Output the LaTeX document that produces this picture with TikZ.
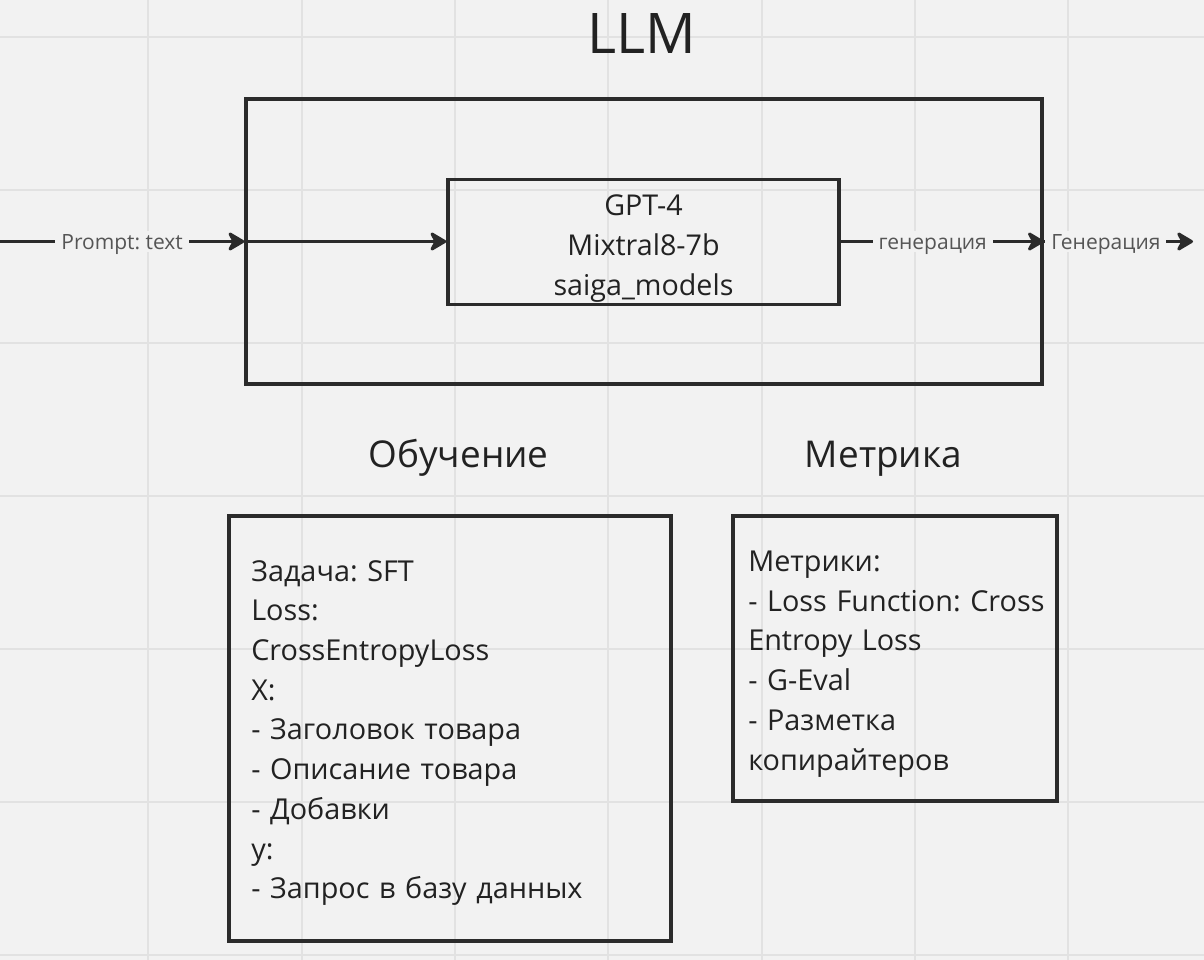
\documentclass[tikz,border=0pt]{standalone}
\usepackage{fontspec}
\setmainfont{Open Sans}
\newfontfamily\bodyfont[WordSpace=0.8]{Open Sans}
\usetikzlibrary{arrows.meta}
\frenchspacing
\definecolor{bg}{HTML}{F2F2F2}
\definecolor{gridc}{HTML}{E2E2E2}
\definecolor{ink}{HTML}{2B2B2B}
\definecolor{txt}{HTML}{222222}
\definecolor{lbl}{HTML}{555555}
\begin{document}
\begin{tikzpicture}[x=0.75pt,y=-0.75pt,
  box/.style={draw=ink, line width=2.6pt, inner sep=0pt},
  conn/.style={draw=ink, line width=2.25pt, -{Stealth[length=14.5pt,width=17pt,inset=4.5pt,round]}},
  lab/.style={fill=bg, text=lbl, font=\fontsize{15.75pt}{18pt}\selectfont\frenchspacing, inner xsep=4.5pt, inner ysep=2pt, text height=11.25pt, text depth=0pt},
  bigtitle/.style={text=txt, font=\fontsize{42pt}{48pt}\selectfont, inner sep=0pt},
  subtitle/.style={text=txt, font=\fontsize{27.7pt}{32pt}\selectfont, inner sep=0pt},
  bodytext/.style={text=txt, font=\bodyfont\fontsize{21.6pt}{29.8pt}\selectfont\frenchspacing, align=left, inner sep=0pt},
  modeltext/.style={text=txt, font=\fontsize{21.5pt}{30pt}\selectfont, align=center, inner sep=0pt}]
\fill[bg] (0,0) rectangle (1204,960);
\useasboundingbox (0,0) rectangle (1204,960);
\foreach \gx in {148,301.5,455,608,761.5,914.5,1068}
  \draw[gridc, line width=1.5pt] (\gx,0) -- (\gx,960);
\foreach \gy in {37,190,343,496,649,802,955}
  \draw[gridc, line width=1.5pt] (0,\gy) -- (1204,\gy);

\node[bigtitle, anchor=base] (llm) at (642,53.3) {LLM};
\node[box, minimum width=597pt, minimum height=213.75pt] (outer) at (644,241.5) {};
\node[box, minimum width=293.25pt, minimum height=93.75pt] (inner) at (643.5,242) {};
\node[modeltext, text width=280pt, anchor=base] (models) at (643.5,215)
  {GPT-4\\Mixtral8-7b\\saiga\_models};

\coordinate (src) at (0,241.5);
\coordinate (dst) at (1193,241.5);
\draw[conn] (src) -- node[lab] {Prompt: text} (outer.west);
\draw[conn] (outer.west) -- (inner.west |- outer.west);
\draw[conn] (inner.east |- outer.east) -- node[lab, pos=0.453] {генерация} (outer.east);
\draw[conn] (outer.east) -- node[lab, pos=0.417] {Генерация} (dst);

\node[subtitle, anchor=base] (train) at (458.5,467.2) {Обучение};
\node[subtitle, anchor=base] (metric) at (883.5,467.2) {Метрика};

\node[box, minimum width=331.5pt, minimum height=318.75pt] (trainbox) at (450,728.5) {};
\node[bodytext, text width=300pt, anchor=base west] (traintext) at (251,581)
  {Задача: SFT\\Loss:\\CrossEntropyLoss\\X:\\- Заголовок товара\\- Описание товара\\- Добавки\\y:\\- Запрос в базу данных};
\node[box, minimum width=243pt, minimum height=213.75pt] (metricbox) at (895,658.5) {};
\node[bodytext, text width=225pt, anchor=base west] (metrictext) at (748,571.5)
  {Метрики:\\- Loss Function: Cross\\Entropy Loss\\- G-Eval\\- Разметка\\копирайтеров};
\end{tikzpicture}
\end{document}
